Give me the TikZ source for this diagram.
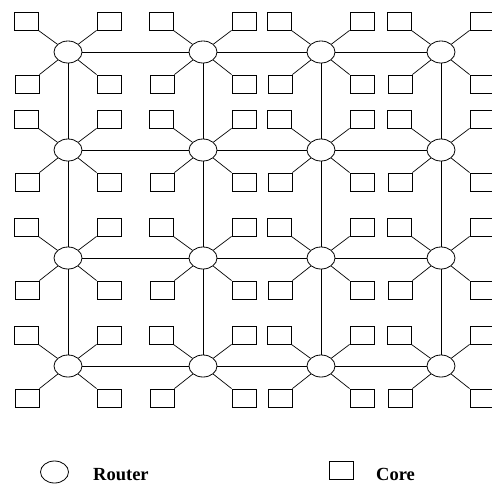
\documentclass[tikz,border=0pt]{standalone}
\usepackage{fontspec}
\setmainfont{Liberation Serif}
\usetikzlibrary{shapes.geometric}
\begin{document}
\begin{tikzpicture}[x=1pt,y=-1pt,
  router/.style={draw,ellipse,line width=0.8pt,minimum width=28pt,minimum height=22pt,inner sep=0pt},
  core/.style={draw,rectangle,line width=0.8pt,minimum width=24pt,minimum height=18pt,inner sep=0pt},
  link/.style={line width=0.7pt},
  legendtext/.style={font=\bfseries\fontsize{18.5}{20}\selectfont,inner sep=0pt,anchor=base west}]
\useasboundingbox (0,0) rectangle (492,483);
\foreach \c/\x in {1/68,2/203,3/321,4/441}{
  \foreach \r/\y in {1/52,2/150,3/258,4/366}{
    \node[router] (r\r\c) at (\x,\y) {};
    \node[core] (a\r\c) at (\x-42,\y-31) {};
    \node[core] (b\r\c) at (\x+41,\y-31) {};
    \node[core] (d\r\c) at (\x-41,\y+32) {};
    \node[core] (e\r\c) at (\x+41,\y+32) {};
    \draw[link] (a\r\c.south east) -- (r\r\c);
    \draw[link] (b\r\c.south west) -- (r\r\c);
    \draw[link] (d\r\c.north east) -- (r\r\c);
    \draw[link] (e\r\c.north west) -- (r\r\c);
  }
}
\foreach \r in {1,2,3,4}{
  \foreach \c/\n in {1/2,2/3,3/4}{
    \draw[link] (r\r\c) -- (r\r\n);
    \draw[link] (r\c\r) -- (r\n\r);
  }
}
\node[router] (lr) at (54.5,472) {};
\node[legendtext] (lrt) at (93,480) {Router};
\node[core] (lc) at (341.5,470) {};
\node[legendtext] (lct) at (376,480) {Core};
\end{tikzpicture}
\end{document}
